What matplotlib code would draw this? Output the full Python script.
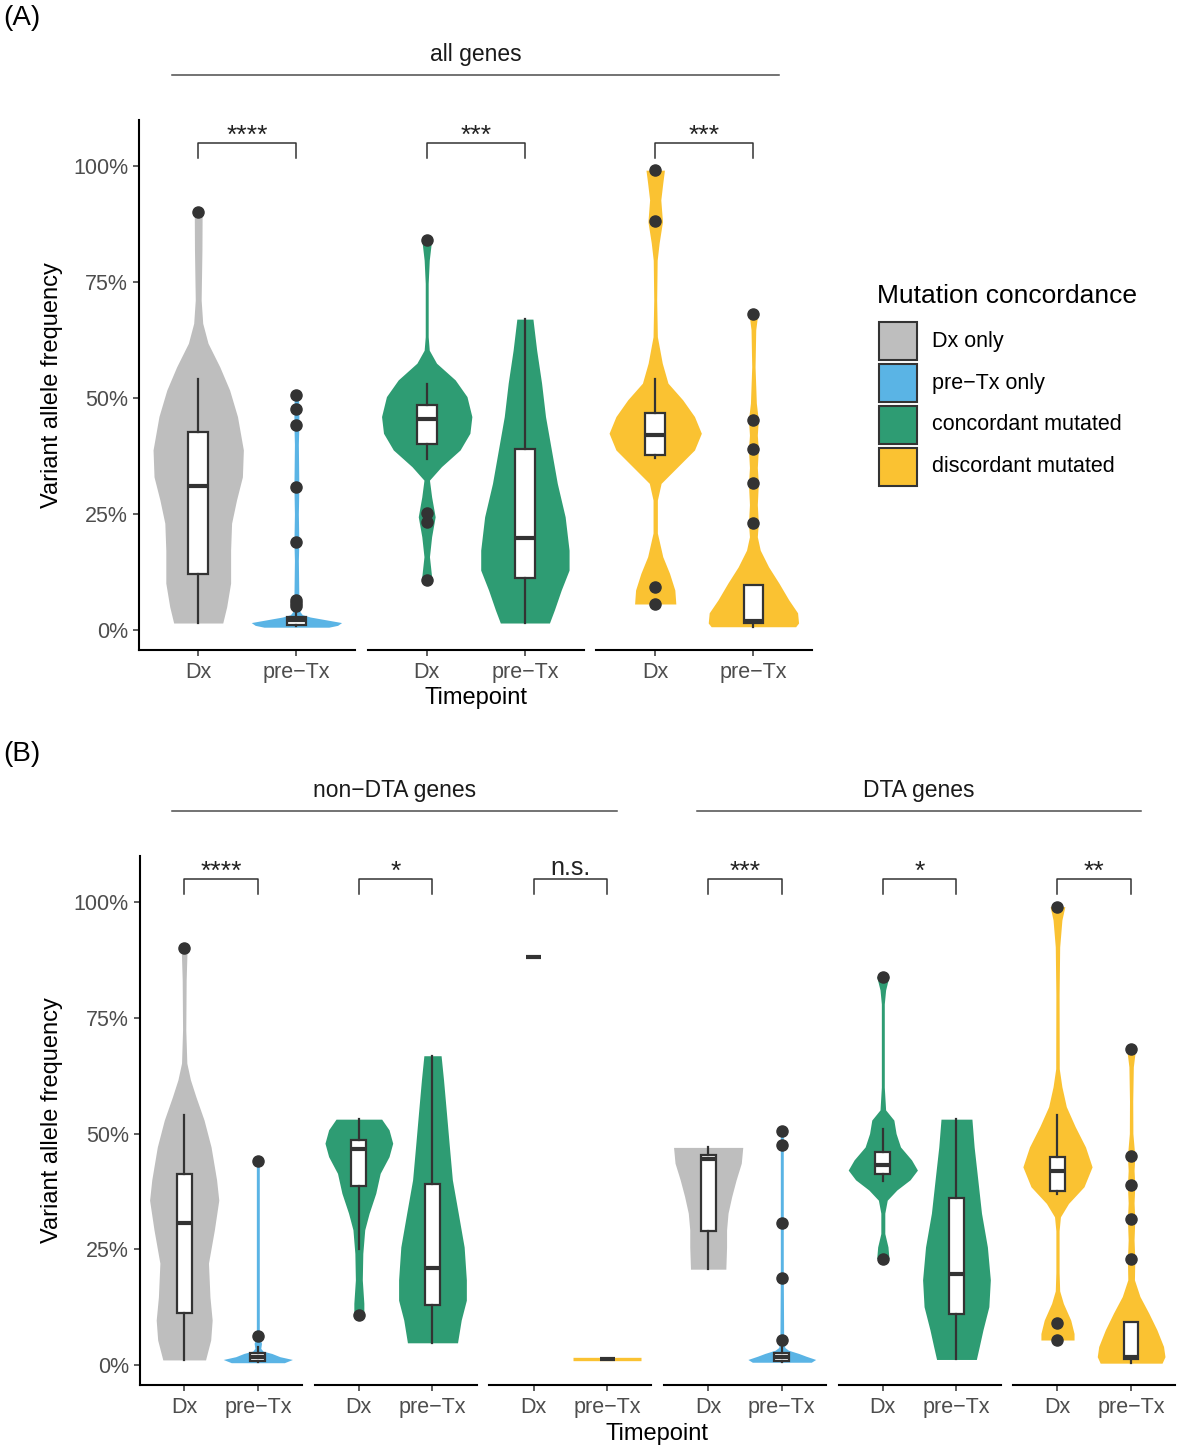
import numpy as np
import matplotlib.pyplot as plt
from matplotlib.patches import Rectangle
from matplotlib.lines import Line2D

plt.rcParams["font.family"] = ["Liberation Sans", "DejaVu Sans"]

W, H = 1177, 1449

# ---- shared categories ----
timepoints = ["Dx", "pre\u2212Tx"]
group_names = ["Dx only", "pre\u2212Tx only", "concordant mutated", "discordant mutated"]
group_colors = ["#BEBEBE", "#5AB4E5", "#2E9C73", "#FAC232"]
ytick_vals = [0, 25, 50, 75, 100]
ytick_labels = ["0%", "25%", "50%", "75%", "100%"]

# ---- panel A : all genes (facets = concordance groups) ----
a_strip = "all genes"
a_signif = ["****", "***", "***"]
a_fill = [(0, 1), (2, 2), (3, 3)]
# violin outlines: VAF level (%) and half width (x units), per facet, per timepoint
a_vio_y = [
    [[1.5, 5, 10.1, 17.2, 23, 28, 33, 38.8, 46, 51.7, 56.7, 61.8, 66.1, 71.1, 81.9, 90.0],
     [0.6, 1.0, 1.6, 2.2, 2.8, 3.3, 4.0, 5.5, 7, 15, 19, 25, 31, 40, 44, 48, 50.6]],
    [[10.8, 11.5, 15.8, 20.1, 24.4, 28.7, 32.3, 35.2, 38.8, 42.4, 46.0, 50.3, 53.9, 57.5, 60.3, 63.2, 74.7, 79.7, 84.1],
     [1.5, 4.3, 8.6, 12.9, 17.2, 24.4, 31.6, 38.8, 46.0, 53.2, 60.3, 67.0]],
    [[5.6, 8.6, 12.2, 15.8, 20.9, 28.0, 31.6, 35.2, 38.8, 42.4, 46.0, 49.6, 53.2, 57.5, 63.2, 71.1, 79.7, 83.4, 88.0, 92.7, 96.3, 99.1],
     [0.7, 1.5, 3.7, 6.5, 10.1, 13.6, 17.2, 20.1, 23, 27, 31.6, 35, 38.9, 42, 45.3, 48.9, 56.7, 64.7, 68.2]],
]
a_vio_w = [
    [[0.25, 0.29, 0.33, 0.33, 0.34, 0.39, 0.45, 0.46, 0.40, 0.32, 0.22, 0.10, 0.046, 0.03, 0.038, 0.04],
     [0.33, 0.42, 0.46, 0.30, 0.14, 0.06, 0.035, 0.04, 0.025, 0.02, 0.025, 0.02, 0.025, 0.02, 0.025, 0.025, 0.02]],
    [[0.05, 0.05, 0.028, 0.05, 0.086, 0.05, 0.028, 0.15, 0.34, 0.44, 0.46, 0.41, 0.29, 0.10, 0.026, 0.015, 0.015, 0.026, 0.05],
     [0.25, 0.30, 0.37, 0.45, 0.45, 0.41, 0.33, 0.27, 0.21, 0.17, 0.12, 0.082]],
    [[0.21, 0.20, 0.146, 0.077, 0.022, 0.022, 0.06, 0.23, 0.40, 0.47, 0.40, 0.28, 0.13, 0.072, 0.022, 0.015, 0.02, 0.04, 0.074, 0.057, 0.077, 0.094],
     [0.43, 0.46, 0.45, 0.36, 0.26, 0.155, 0.07, 0.04, 0.05, 0.04, 0.05, 0.04, 0.05, 0.04, 0.05, 0.03, 0.017, 0.024, 0.045]],
]
a_whislo = [[1.5, 0.8], [36.8, 1.5], [37.0, 0.7]]
a_q1 = [[12.0, 1.1], [40.1, 11.2], [37.8, 1.6]]
a_med = [[31.0, 2.1], [45.4, 19.8], [42.0, 2.0]]
a_q3 = [[42.7, 2.7], [48.4, 39.1], [46.7, 9.7]]
a_whishi = [[54.2, 4.0], [53.0, 67.0], [54.2, 9.7]]
a_out = [
    [[90.0], [50.6, 47.7, 44.1, 30.9, 19.0, 6.5, 5.8, 5.2]],
    [[84.1, 25.3, 23.3, 10.8], []],
    [[99.1, 88.1, 9.3, 5.7], [68.2, 45.3, 38.9, 31.6, 23.0]],
]

# ---- panel B : non-DTA genes (facets 1-3) and DTA genes (facets 4-6) ----
b_strips = ["non\u2212DTA genes", "DTA genes"]
b_signif = ["****", "*", "n.s.", "***", "*", "**"]
b_fill = [(0, 1), (2, 2), (None, 3), (0, 1), (2, 2), (3, 3)]
b_vio_y = [
    [[1.1, 5.4, 9.7, 14.7, 22.0, 29.2, 35.6, 40.0, 47.1, 52.9, 57.9, 61.6, 65.2, 72.4, 83.2, 90.0],
     [0.5, 1.2, 1.8, 2.5, 3.0, 3.6, 4.7, 5.6, 7.0, 43.0, 44.1]],
    [[10.8, 13.3, 18.4, 24.1, 29.2, 32.8, 37.1, 41.4, 45.0, 47.9, 50.8, 53.1],
     [4.8, 9.7, 14.0, 18.4, 25.5, 32.8, 40.0, 47.1, 54.4, 61.6, 66.8]],
    [[],
     [1.2]],
    [[20.7, 25.5, 29.2, 32.8, 36.4, 40.0, 43.6, 47.0],
     [0.6, 1.2, 1.9, 2.5, 3.2, 3.8, 5.0, 6.5, 20.0, 50.6]],
    [[23.0, 25.5, 28.4, 32.8, 35.6, 37.8, 40.0, 42.1, 44.3, 47.1, 50.0, 52.9, 55.1, 60.0, 78.0, 81.0, 83.9],
     [1.2, 4.0, 7.6, 12.6, 18.4, 25.5, 32.8, 40.0, 47.1, 53.1]],
    [[5.4, 6.8, 9.7, 13.3, 16.0, 20.0, 29.0, 32.0, 34.9, 38.5, 42.8, 47.1, 51.5, 55.8, 60.1, 64.0, 80.0, 90.3, 96.1, 99.0],
     [0.4, 1.8, 4.0, 7.6, 11.2, 14.8, 18.4, 22.8, 27.0, 31.5, 35.0, 38.8, 42.0, 45.1, 50.0, 57.0, 64.4, 68.3]],
]
b_vio_w = [
    [[0.29, 0.36, 0.38, 0.35, 0.33, 0.41, 0.47, 0.44, 0.365, 0.27, 0.16, 0.085, 0.036, 0.022, 0.027, 0.04],
     [0.36, 0.47, 0.30, 0.19, 0.07, 0.04, 0.05, 0.03, 0.02, 0.02, 0.03]],
    [[0.068, 0.068, 0.047, 0.054, 0.08, 0.14, 0.23, 0.29, 0.41, 0.46, 0.41, 0.31],
     [0.34, 0.39, 0.46, 0.46, 0.43, 0.35, 0.27, 0.23, 0.19, 0.15, 0.117]],
    [[],
     [0.46]],
    [[0.24, 0.25, 0.25, 0.27, 0.32, 0.38, 0.45, 0.47],
     [0.40, 0.46, 0.33, 0.23, 0.09, 0.04, 0.04, 0.025, 0.02, 0.02]],
    [[0.083, 0.07, 0.027, 0.027, 0.06, 0.19, 0.37, 0.47, 0.39, 0.24, 0.18, 0.15, 0.038, 0.02, 0.02, 0.038, 0.083],
     [0.27, 0.31, 0.36, 0.44, 0.46, 0.42, 0.34, 0.29, 0.24, 0.21]],
    [[0.225, 0.225, 0.18, 0.08, 0.03, 0.022, 0.022, 0.04, 0.15, 0.36, 0.47, 0.38, 0.24, 0.12, 0.06, 0.024, 0.022, 0.03, 0.06, 0.10],
     [0.42, 0.46, 0.44, 0.35, 0.24, 0.12, 0.045, 0.05, 0.04, 0.05, 0.04, 0.05, 0.04, 0.05, 0.024, 0.022, 0.03, 0.06]],
]
b_whislo = [[1.1, 0.6], [25.0, 4.8], [88.1, 1.2], [20.7, 0.6], [39.8, 1.2], [37.0, 0.4]]
b_q1 = [[11.3, 0.9], [38.7, 13.0], [88.1, 1.2], [29.0, 0.9], [41.3, 11.0], [37.6, 1.3]]
b_med = [[30.6, 1.7], [46.6, 20.9], [88.1, 1.2], [44.6, 1.7], [43.2, 19.7], [41.9, 1.8]]
b_q3 = [[41.2, 2.5], [48.6, 39.1], [88.1, 1.2], [45.4, 2.7], [46.1, 36.0], [45.0, 9.4]]
b_whishi = [[54.0, 3.8], [53.1, 66.8], [88.1, 1.2], [47.0, 4.0], [50.9, 53.1], [54.1, 9.4]]
b_out = [
    [[90.0], [44.1, 6.3]],
    [[10.8], []],
    [[], []],
    [[], [50.6, 47.5, 30.7, 18.9, 5.5]],
    [[83.9, 23.0], []],
    [[99.0, 9.0, 5.4], [68.3, 45.1, 38.8, 31.5, 22.8]],
]

YLIM = (-4.4, 110.0)
DARK = "#333333"


def fx(px):
    return px / W


def fy(py):
    return 1 - py / H


def draw_panel(fig, lefts, width, top, bottom, fills, vio_y, vio_w,
               whislo, q1, med, q3, whishi, outliers, signif):
    axes = []
    for i, left in enumerate(lefts):
        ax = fig.add_axes([fx(left), fy(bottom), width / W, (bottom - top) / H])
        ax.set_xlim(0.4, 2.6)
        ax.set_ylim(*YLIM)
        for t in range(2):
            pos = t + 1
            col = fills[i][t]
            y = np.array(vio_y[i][t])
            w = np.array(vio_w[i][t])
            if col is not None and len(y) > 1:
                ax.fill_betweenx(y, pos - w, pos + w, color=group_colors[col],
                                 lw=0, zorder=1)
            elif col is not None and len(y) == 1:
                ax.hlines(y[0], pos - w[0], pos + w[0], color=group_colors[col],
                          lw=2.4, zorder=1)
            stats = dict(whislo=whislo[i][t], q1=q1[i][t], med=med[i][t],
                         q3=q3[i][t], whishi=whishi[i][t], fliers=outliers[i][t])
            ax.bxp([stats], positions=[pos], widths=0.2, patch_artist=True,
                   showcaps=False, manage_ticks=False, zorder=2,
                   boxprops=dict(facecolor="white", edgecolor=DARK, lw=1.6),
                   whiskerprops=dict(color=DARK, lw=1.6),
                   medianprops=dict(color=DARK, lw=3.0, solid_capstyle="butt"),
                   flierprops=dict(marker="o", markerfacecolor=DARK,
                                   markeredgecolor=DARK, markersize=8))

        # significance bracket
        ax.plot([1, 1, 2, 2], [101.8, 105.0, 105.0, 101.8], color=DARK, lw=1.1,
                clip_on=False)
        lab = signif[i]
        if lab.startswith("*"):
            ax.text(1.5, 104.9, lab, ha="center", va="baseline", fontsize=19,
                    color="#222222", clip_on=False)
        else:
            ax.text(1.5, 105.8, lab, ha="center", va="baseline", fontsize=18,
                    color="#222222", clip_on=False)

        for s in ["top", "right"]:
            ax.spines[s].set_visible(False)
        ax.spines["bottom"].set_linewidth(1.5)
        ax.spines["left"].set_linewidth(1.5)
        ax.set_xticks([1, 2])
        ax.set_xticklabels(timepoints, fontsize=15.5, color="#4D4D4D")
        ax.tick_params(axis="both", length=4, width=1.1, color=DARK, pad=4)
        if i == 0:
            ax.set_yticks(ytick_vals)
            ax.set_yticklabels(ytick_labels, fontsize=15.5, color="#4D4D4D")
        else:
            ax.spines["left"].set_visible(False)
            ax.set_yticks([])
        ax.patch.set_alpha(0)
        axes.append(ax)
    return axes


fig = plt.figure(figsize=(W / 100, H / 100), dpi=100)

# panel A
a_lefts = [139.3 + i * 228.5 for i in range(3)]
draw_panel(fig, a_lefts, 216, 119.6, 650.4, a_fill, a_vio_y, a_vio_w,
           a_whislo, a_q1, a_med, a_q3, a_whishi, a_out, a_signif)

# panel B
b_lefts = [140 + i * 174.66 for i in range(6)]
draw_panel(fig, b_lefts, 162, 855.7, 1385.4, b_fill, b_vio_y, b_vio_w,
           b_whislo, b_q1, b_med, b_q3, b_whishi, b_out, b_signif)

# panel tags, strips, axis titles
fig.text(fx(3), fy(18), "(A)", fontsize=20, va="center", ha="left")
fig.text(fx(3), fy(754), "(B)", fontsize=20, va="center", ha="left")

fig.text(fx(476), fy(54), a_strip, fontsize=16.5, ha="center", va="center", color="#1A1A1A")
fig.add_artist(Line2D([fx(172), fx(779)], [fy(75), fy(75)], color="#4D4D4D", lw=1.1))
fig.text(fx(395), fy(790), b_strips[0], fontsize=16.5, ha="center", va="center", color="#1A1A1A")
fig.add_artist(Line2D([fx(172), fx(617)], [fy(811), fy(811)], color="#4D4D4D", lw=1.1))
fig.text(fx(919), fy(790), b_strips[1], fontsize=16.5, ha="center", va="center", color="#1A1A1A")
fig.add_artist(Line2D([fx(697), fx(1141)], [fy(811), fy(811)], color="#4D4D4D", lw=1.1))

fig.text(fx(476), fy(698), "Timepoint", fontsize=17, ha="center", va="center")
fig.text(fx(657), fy(1434), "Timepoint", fontsize=17, ha="center", va="center")
fig.text(fx(52), fy(385), "Variant allele frequency", fontsize=17, rotation=90,
         ha="center", va="center")
fig.text(fx(52), fy(1120), "Variant allele frequency", fontsize=17, rotation=90,
         ha="center", va="center")

# legend (keys drawn as squares, 38 px, 42 px apart)
fig.text(fx(877), fy(296), "Mutation concordance", fontsize=19, ha="left", va="center")
for k, (name, col) in enumerate(zip(group_names, group_colors)):
    top = 322 + 42 * k
    fig.add_artist(Rectangle((fx(879), fy(top + 38)), 38 / W, 38 / H,
                             facecolor=col, edgecolor=DARK, lw=1.5))
    fig.text(fx(932), fy(top + 19), name, fontsize=15.5, ha="left", va="center")

fig.savefig("out.png", dpi=100)
